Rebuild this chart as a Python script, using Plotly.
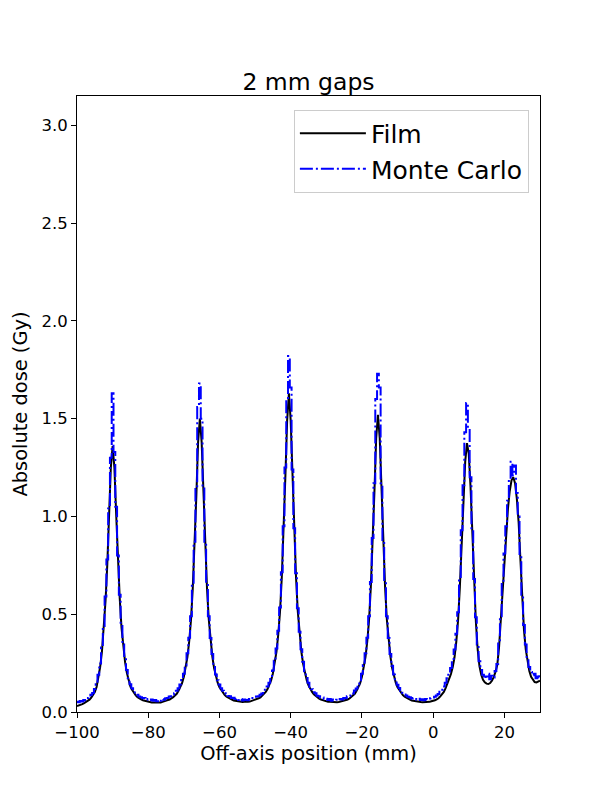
#!/usr/bin/env python3
"""
Film vs Monte Carlo dose profile across 2 mm gaps
"""

import plotly.graph_objects as go

# profile sampled every 0.5 mm from -100 mm to +30 mm
POS_START = -100.0
POS_STEP = 0.5

# film dose (Gy), one row = 5 mm
FILM_DOSE = [
    0.031, 0.033, 0.036, 0.040, 0.045, 0.050, 0.056, 0.063, 0.073, 0.086,   # -100
    0.102, 0.128, 0.170, 0.230, 0.308, 0.415, 0.565, 0.751, 1.00, 1.25,     # -95
    1.36, 1.25, 1.01, 0.77, 0.58, 0.43, 0.33, 0.255, 0.20, 0.16,            # -90
    0.13, 0.112, 0.097, 0.085, 0.076, 0.069, 0.064, 0.060, 0.057, 0.054,    # -85
    0.052, 0.050, 0.049, 0.048, 0.048, 0.048, 0.049, 0.049, 0.052, 0.054,   # -80
    0.056, 0.061, 0.064, 0.069, 0.076, 0.084, 0.093, 0.108, 0.124, 0.147,   # -75
    0.180, 0.222, 0.281, 0.361, 0.47, 0.63, 0.835, 1.10, 1.38, 1.50,        # -70
    1.38, 1.11, 0.84, 0.633, 0.473, 0.363, 0.283, 0.224, 0.181, 0.150,      # -65
    0.127, 0.111, 0.096, 0.086, 0.078, 0.072, 0.067, 0.063, 0.059, 0.057,   # -60
    0.054, 0.052, 0.052, 0.051, 0.052, 0.051, 0.052, 0.053, 0.056, 0.059,   # -55
    0.061, 0.065, 0.070, 0.075, 0.083, 0.091, 0.103, 0.117, 0.136, 0.162,   # -50
    0.197, 0.245, 0.307, 0.395, 0.513, 0.688, 0.91, 1.20, 1.49, 1.63,       # -45
    1.49, 1.20, 0.91, 0.688, 0.513, 0.395, 0.307, 0.245, 0.197, 0.162,      # -40
    0.136, 0.117, 0.103, 0.091, 0.083, 0.074, 0.068, 0.064, 0.060, 0.058,   # -35
    0.055, 0.052, 0.052, 0.051, 0.051, 0.050, 0.050, 0.051, 0.053, 0.055,   # -30
    0.057, 0.061, 0.064, 0.069, 0.076, 0.084, 0.093, 0.108, 0.124, 0.147,   # -25
    0.180, 0.222, 0.281, 0.361, 0.47, 0.64, 0.85, 1.12, 1.40, 1.52,         # -20
    1.40, 1.12, 0.85, 0.64, 0.473, 0.363, 0.283, 0.224, 0.181, 0.150,       # -15
    0.127, 0.111, 0.096, 0.086, 0.078, 0.072, 0.067, 0.063, 0.059, 0.057,   # -10
    0.054, 0.052, 0.052, 0.051, 0.050, 0.050, 0.050, 0.051, 0.052, 0.055,   # -5
    0.057, 0.060, 0.065, 0.070, 0.080, 0.090, 0.103, 0.122, 0.145, 0.168,   # 0
    0.195, 0.23, 0.28, 0.36, 0.47, 0.64, 0.88, 1.10, 1.28, 1.375,           # 5
    1.32, 1.15, 0.90, 0.65, 0.46, 0.32, 0.235, 0.19, 0.165, 0.152,          # 10
    0.145, 0.143, 0.148, 0.160, 0.178, 0.205, 0.24, 0.33, 0.47, 0.63,       # 15
    0.78, 0.92, 1.04, 1.13, 1.185, 1.20, 1.17, 1.09, 0.97, 0.78,            # 20
    0.57, 0.42, 0.32, 0.255, 0.21, 0.18, 0.163, 0.153, 0.151, 0.154,        # 25
    0.160,                                                                  # 30
]

# Monte Carlo dose (Gy), same grid
MC_DOSE = [
    0.052, 0.050, 0.056, 0.054, 0.062, 0.060, 0.071, 0.074, 0.088, 0.097,   # -100
    0.118, 0.142, 0.19, 0.248, 0.33, 0.44, 0.59, 0.78, 1.04, 1.30,          # -95
    1.63, 1.33, 1.05, 0.80, 0.60, 0.45, 0.345, 0.27, 0.215, 0.172,          # -90
    0.142, 0.121, 0.110, 0.094, 0.088, 0.079, 0.076, 0.070, 0.072, 0.063,   # -85
    0.066, 0.060, 0.064, 0.057, 0.061, 0.055, 0.062, 0.058, 0.066, 0.063,   # -80
    0.070, 0.072, 0.079, 0.081, 0.090, 0.096, 0.109, 0.121, 0.140, 0.163,   # -75
    0.196, 0.238, 0.30, 0.38, 0.49, 0.655, 0.87, 1.14, 1.56, 1.68,          # -70
    1.50, 1.15, 0.87, 0.655, 0.49, 0.378, 0.296, 0.236, 0.192, 0.162,       # -65
    0.140, 0.121, 0.109, 0.096, 0.091, 0.082, 0.080, 0.072, 0.073, 0.066,   # -60
    0.068, 0.061, 0.066, 0.059, 0.064, 0.062, 0.060, 0.067, 0.065, 0.072,   # -55
    0.071, 0.079, 0.080, 0.088, 0.094, 0.104, 0.114, 0.131, 0.150, 0.176,   # -50
    0.212, 0.262, 0.325, 0.415, 0.535, 0.715, 0.95, 1.25, 1.60, 1.82,       # -45
    1.66, 1.24, 0.94, 0.71, 0.53, 0.41, 0.321, 0.257, 0.209, 0.174,         # -40
    0.149, 0.128, 0.116, 0.101, 0.096, 0.083, 0.081, 0.073, 0.074, 0.066,   # -35
    0.068, 0.061, 0.067, 0.058, 0.064, 0.060, 0.063, 0.059, 0.066, 0.064,   # -30
    0.072, 0.070, 0.080, 0.082, 0.091, 0.095, 0.110, 0.120, 0.141, 0.162,   # -25
    0.196, 0.24, 0.30, 0.38, 0.49, 0.665, 0.89, 1.17, 1.60, 1.73,           # -20
    1.66, 1.17, 0.88, 0.665, 0.49, 0.378, 0.296, 0.236, 0.192, 0.161,       # -15
    0.139, 0.123, 0.108, 0.098, 0.090, 0.085, 0.078, 0.076, 0.069, 0.071,   # -10
    0.066, 0.063, 0.068, 0.061, 0.065, 0.060, 0.066, 0.064, 0.069, 0.071,   # -5
    0.074, 0.078, 0.084, 0.092, 0.103, 0.114, 0.130, 0.150, 0.172, 0.196,   # 0
    0.225, 0.265, 0.32, 0.40, 0.51, 0.69, 0.93, 1.16, 1.43, 1.58,           # 5
    1.45, 1.20, 0.94, 0.68, 0.485, 0.345, 0.26, 0.215, 0.19, 0.182,         # 10
    0.172, 0.195, 0.168, 0.185, 0.176, 0.21, 0.245, 0.35, 0.49, 0.66,       # 15
    0.81, 0.95, 1.08, 1.19, 1.28, 1.21, 1.26, 1.12, 1.00, 0.80,             # 20
    0.60, 0.445, 0.345, 0.275, 0.23, 0.205, 0.188, 0.196, 0.172, 0.190,     # 25
    0.178,                                                                  # 30
]

X_TICKS = [-100, -80, -60, -40, -20, 0, 20]
Y_TICKS = [0.0, 0.5, 1.0, 1.5, 2.0, 2.5, 3.0]


def main():
    positions = [POS_START + POS_STEP * i for i in range(len(FILM_DOSE))]

    fig = go.Figure()

    # film measurement
    fig.add_trace(go.Scatter(
        x=positions,
        y=FILM_DOSE,
        mode='lines',
        name='Film',
        line=dict(color='black', width=2),
    ))

    # Monte Carlo simulation
    fig.add_trace(go.Scatter(
        x=positions,
        y=MC_DOSE,
        mode='lines',
        name='Monte Carlo',
        line=dict(color='#0000ff', width=2, dash='13px,3px,2px,3px', shape='hvh'),
    ))

    # page body adds an 8 px offset, margins compensate for it
    fig.update_layout(
        width=600,
        height=800,
        margin=dict(l=67, r=68, t=88, b=96),
        plot_bgcolor='white',
        paper_bgcolor='white',
        font=dict(family='DejaVu Sans', color='black'),
        title=dict(
            text='2 mm gaps',
            font=dict(size=23.5),
            x=0.5, xref='paper', xanchor='center',
            y=1 - 74 / 800, yref='container', yanchor='middle',
        ),
        showlegend=True,
        legend=dict(
            x=0.976, y=0.978, xanchor='right', yanchor='top',
            bgcolor='rgba(255,255,255,0.8)',
            bordercolor='#cccccc', borderwidth=1,
            font=dict(size=25),
            itemwidth=66,
            tracegroupgap=0,
        ),
    )

    fig.update_xaxes(
        range=[-100, 30],
        tickvals=X_TICKS,
        ticks='outside', ticklen=5, tickwidth=1, tickcolor='black',
        tickfont=dict(size=16.5),
        showline=True, linecolor='black', linewidth=1, mirror=True,
        showgrid=False, zeroline=False,
        title=dict(text='Off-axis position (mm)', font=dict(size=19.4), standoff=2),
    )
    fig.update_yaxes(
        range=[0, 3.15],
        tickvals=Y_TICKS,
        tickformat='.1f',
        ticks='outside', ticklen=5, tickwidth=1, tickcolor='black',
        tickfont=dict(size=16.5),
        showline=True, linecolor='black', linewidth=1, mirror=True,
        showgrid=False, zeroline=False,
        title=dict(text='Absolute dose (Gy)', font=dict(size=19.4), standoff=8),
    )

    fig.write_html("out.html")


if __name__ == "__main__":
    main()
